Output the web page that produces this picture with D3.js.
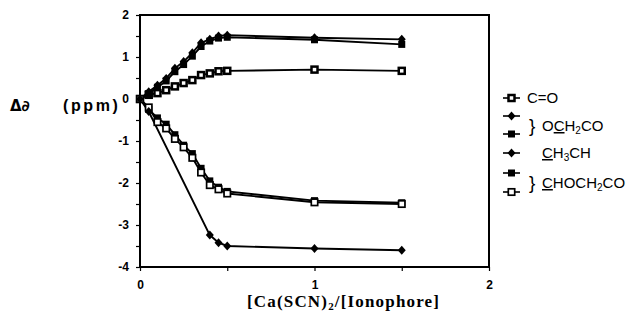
<!DOCTYPE html>
<html>
<head>
<meta charset="utf-8">
<script src="https://cdn.jsdelivr.net/npm/d3@7"></script>
<style>
  html, body { margin: 0; padding: 0; background: #fff; }
  svg { display: block; }
</style>
</head>
<body>
<svg id="chart" width="632" height="323"></svg>
<script>
// ---------------- data ----------------
const xValues = [0, 0.05, 0.1, 0.15, 0.2, 0.25, 0.3, 0.35, 0.4, 0.45, 0.5, 1.0, 1.5];
const coValues = [0, 0.1, 0.14, 0.21, 0.3, 0.38, 0.45, 0.57, 0.61, 0.66, 0.67, 0.7, 0.67];
const och2coDiamond = [0, 0.17, 0.33, 0.49, 0.73, 0.89, 1.1, 1.34, 1.42, 1.5, 1.52, 1.46, 1.42];
const och2coSquare = [0, 0.13, 0.28, 0.43, 0.65, 0.82, 1.02, 1.25, 1.38, 1.45, 1.47, 1.41, 1.3];
const ch3chX = [0, 0.05, 0.4, 0.45, 0.5, 1.0, 1.5];
const ch3chValues = [0, -0.3, -3.24, -3.42, -3.5, -3.56, -3.6];
const chochFilled = [0, -0.25, -0.45, -0.6, -0.85, -1.1, -1.3, -1.65, -1.95, -2.1, -2.2, -2.42, -2.47];
const chochOpen = [0, -0.2, -0.55, -0.7, -0.95, -1.15, -1.4, -1.75, -2.05, -2.15, -2.25, -2.46, -2.5];
const xTicks = [0, 0.5, 1, 1.5, 2];
const xTickLabels = ["0", "", "1", "", "2"];
const yTicks = [-4, -3.5, -3, -2.5, -2, -1.5, -1, -0.5, 0, 0.5, 1, 1.5, 2];
const yTickLabels = { "-4": "-4", "-3": "-3", "-2": "-2", "-1": "-1", "0": "0", "1": "1", "2": "2" };

// ---------------- chart ----------------
const svg = d3.select("#chart");
const x = d3.scaleLinear().domain([0, 2]).range([140, 489]);
const y = d3.scaleLinear().domain([-4, 2]).range([267, 15]);

const series = [
  { name: "co", xs: xValues, ys: coValues, marker: "coSquare" },
  { name: "och2coS", xs: xValues, ys: och2coSquare, marker: "filledSquare" },
  { name: "och2coD", xs: xValues, ys: och2coDiamond, marker: "diamond" },
  { name: "chochF", xs: xValues, ys: chochFilled, marker: "filledSquare" },
  { name: "chochO", xs: xValues, ys: chochOpen, marker: "openSquare" },
  { name: "ch3ch", xs: ch3chX, ys: ch3chValues, marker: "diamond" }
];

function drawMarker(g, type, cx, cy) {
  if (type === "diamond") {
    g.append("path")
      .attr("d", `M${cx},${cy - 4.5}L${cx + 4},${cy}L${cx},${cy + 4.5}L${cx - 4},${cy}Z`)
      .attr("fill", "#000");
  } else if (type === "filledSquare") {
    g.append("rect").attr("x", cx - 3.5).attr("y", cy - 3.5).attr("width", 7).attr("height", 7)
      .attr("fill", "#000");
  } else if (type === "openSquare") {
    g.append("rect").attr("x", cx - 3.2).attr("y", cy - 3.2).attr("width", 6.4).attr("height", 6.4)
      .attr("fill", "#fff").attr("stroke", "#000").attr("stroke-width", 1.7);
  } else if (type === "coSquare") {
    g.append("rect").attr("x", cx - 3).attr("y", cy - 3).attr("width", 6).attr("height", 6)
      .attr("fill", "#fff").attr("stroke", "#000").attr("stroke-width", 2.5);
  }
}

const line = d3.line().x(d => x(d[0])).y(d => y(d[1]));
const plot = svg.append("g");
series.forEach(s => {
  const pts = s.xs.map((v, i) => [v, s.ys[i]]);
  plot.append("path").attr("d", line(pts)).attr("fill", "none")
    .attr("stroke", "#000").attr("stroke-width", 1.9);
});
series.forEach(s => {
  const g = plot.append("g");
  s.xs.forEach((v, i) => drawMarker(g, s.marker, x(v), y(s.ys[i])));
});

// frame
svg.append("rect").attr("x", 140).attr("y", 15).attr("width", 349).attr("height", 252)
  .attr("fill", "none").attr("stroke", "#000").attr("stroke-width", 2);

const sans = "Liberation Sans, Arial, sans-serif";

// x axis
const xAxis = d3.axisBottom(x).tickValues(xTicks).tickSize(4).tickPadding(9)
  .tickFormat((d, i) => xTickLabels[i]);
const gx = svg.append("g").attr("transform", "translate(0,267)").call(xAxis);
gx.select(".domain").remove();
gx.selectAll(".tick line").attr("stroke", "#000").attr("stroke-width", 1.2);
gx.selectAll(".tick text").attr("font-family", sans)
  .attr("font-weight", "bold").attr("font-size", 12).attr("fill", "#000");

// y axis
const yAxis = d3.axisLeft(y).tickValues(yTicks).tickSize(4).tickPadding(7)
  .tickFormat(d => yTickLabels[String(d)] || "");
const gy = svg.append("g").attr("transform", "translate(140,0)").call(yAxis);
gy.select(".domain").remove();
gy.selectAll(".tick line").attr("stroke", "#000").attr("stroke-width", 1.2);
gy.selectAll(".tick text").attr("font-family", sans)
  .attr("font-weight", "bold").attr("font-size", 12).attr("fill", "#000");

// y title
svg.append("text").attr("x", 10).attr("y", 111)
  .attr("font-family", "DejaVu Sans, sans-serif").attr("font-weight", "bold")
  .attr("font-size", 15).text("Δ∂");
svg.append("text").attr("x", 63).attr("y", 111)
  .attr("font-family", sans).attr("font-weight", "bold")
  .attr("font-size", 16).attr("letter-spacing", 2.6).text("(ppm)");

// x title
const xt = svg.append("text").attr("x", 343).attr("y", 307).attr("text-anchor", "middle")
  .attr("font-family", "Liberation Serif, Times New Roman, serif").attr("font-weight", "bold")
  .attr("font-size", 17).attr("textLength", 192).attr("lengthAdjust", "spacing");
xt.append("tspan").text("[Ca(SCN)");
xt.append("tspan").attr("font-size", 11).attr("dy", 3).text("2");
xt.append("tspan").attr("dy", -3).text("/[Ionophore]");

// legend
const legendRows = [
  { yy: 98, marker: "coSquare" },
  { yy: 116, marker: "diamond" },
  { yy: 134, marker: "filledSquare" },
  { yy: 153, marker: "diamond" },
  { yy: 173, marker: "filledSquare" },
  { yy: 192, marker: "openSquare" }
];
const lg = svg.append("g");
legendRows.forEach(r => {
  lg.append("line").attr("x1", 503).attr("x2", 520).attr("y1", r.yy).attr("y2", r.yy)
    .attr("stroke", "#000").attr("stroke-width", 1.6);
  drawMarker(lg, r.marker, 511.5, r.yy);
});
function legText(xx, yy, parts) {
  const t = lg.append("text").attr("x", xx).attr("y", yy).attr("font-family", sans).attr("font-size", 15);
  parts.forEach(p => {
    const ts = t.append("tspan").text(p.t);
    if (p.u) ts.attr("text-decoration", "underline");
    if (p.sub) ts.attr("font-size", 10).attr("dy", 3);
    if (p.back) ts.attr("dy", -3);
  });
  return t;
}
legText(527, 103, [{ t: "C=O" }]);
lg.append("text").attr("x", 529).attr("y", 132).attr("font-family", sans).attr("font-size", 19).text("}");
legText(542, 131, [{ t: "O" }, { t: "C", u: true }, { t: "H" }, { t: "2", sub: true }, { t: "CO", back: true }]);
legText(542, 158, [{ t: "C", u: true }, { t: "H" }, { t: "3", sub: true }, { t: "CH", back: true }]);
lg.append("text").attr("x", 529).attr("y", 189).attr("font-family", sans).attr("font-size", 19).text("}");
legText(542, 188, [{ t: "C", u: true }, { t: "HOCH" }, { t: "2", sub: true }, { t: "CO", back: true }]);
</script>
</body>
</html>
